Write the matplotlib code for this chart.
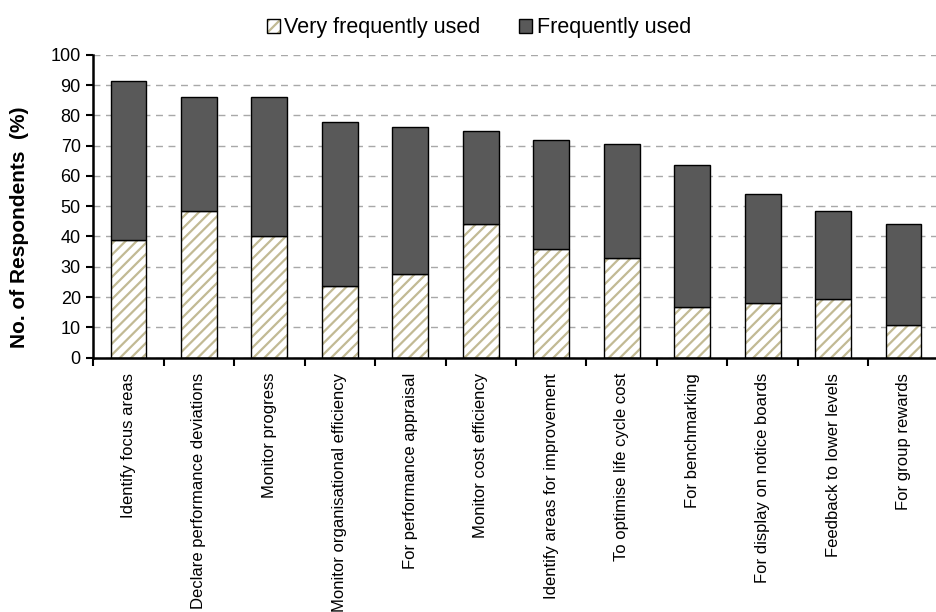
import numpy as np
import matplotlib.pyplot as plt
from matplotlib.patches import Patch

plt.rcParams['font.family'] = ['Liberation Sans', 'DejaVu Sans']
plt.rcParams['hatch.linewidth'] = 1.6

uses = ['Identify focus areas', 'Declare performance deviations', 'Monitor progress',
        'Monitor organisational efficiency', 'For performance appraisal',
        'Monitor cost efficiency', 'Identify areas for improvement',
        'To optimise life cycle cost', 'For benchmarking', 'For display on notice boards',
        'Feedback to lower levels', 'For group rewards']
very_freq = [39.0, 48.3, 40.3, 23.5, 27.7, 44.0, 35.8, 32.9, 16.7, 18.0, 19.2, 10.7]
total = [91.5, 86.0, 86.0, 78.0, 76.1, 75.0, 71.8, 70.6, 63.8, 54.0, 48.4, 44.1]
freq = [t - v for t, v in zip(total, very_freq)]

tan = '#c2ba94'
dark = '#595959'

fig = plt.figure(figsize=(9.37, 6.12), dpi=100)
W, H = 937, 612
ax = fig.add_axes([93.3/W, (H-357.5)/H, 845.4/W, 302.5/H])

x = np.arange(len(uses))
bw = 0.51
ax.bar(x, very_freq, bw, color='white', edgecolor=tan, hatch='///', linewidth=0, zorder=2)
ax.bar(x, very_freq, bw, fill=False, edgecolor='black', linewidth=1, zorder=3)
ax.bar(x, freq, bw, bottom=very_freq, color=dark, edgecolor='black', linewidth=1, zorder=3)

ax.set_xlim(-0.5, len(uses) - 0.5)
ax.set_ylim(0, 100)
ax.set_yticks(np.arange(0, 101, 10))
ax.tick_params(axis='y', labelsize=13, length=5, width=1.5, pad=4)
ax.set_xticks(np.arange(-0.5, len(uses)), labels=[])
ax.set_xticks(x, labels=uses, minor=True, rotation=90, va='top', ha='center')
ax.tick_params(axis='x', which='major', length=6, width=1.5)
ax.tick_params(axis='x', which='minor', length=0, labelsize=12, pad=11)

ax.yaxis.grid(True, linestyle=(0, (5, 4)), color='#a8a8a8', linewidth=1)
ax.set_axisbelow(True)
for s in ['top', 'right']:
    ax.spines[s].set_visible(False)
for s in ['left', 'bottom']:
    ax.spines[s].set_linewidth(1.8)

ax.set_ylabel('No. of Respondents  (%)', fontsize=15, fontweight='bold')
ax.yaxis.set_label_coords(-0.076, 0.43)

h_very = (Patch(facecolor='white', edgecolor=tan, hatch='///', linewidth=0),
          Patch(fill=False, edgecolor='black', linewidth=1))
h_freq = Patch(facecolor=dark, edgecolor='black', linewidth=1)
fig.legend([h_very, h_freq], ['Very frequently used', 'Frequently used'],
           loc='upper center', bbox_to_anchor=(479/W, 1 + 2/H), ncol=2, frameon=False,
           fontsize=15.5, handlelength=0.6, handleheight=0.6, handletextpad=0.2,
           columnspacing=1.8)

fig.savefig('out.png', dpi=100)
